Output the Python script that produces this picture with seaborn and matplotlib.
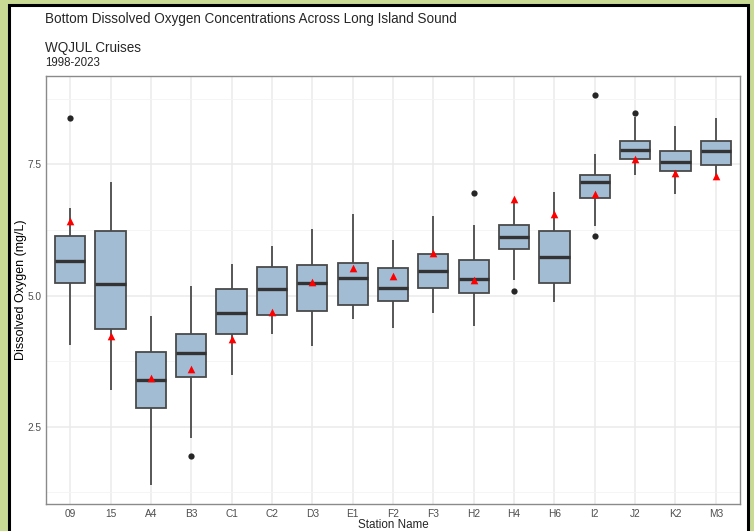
import matplotlib
matplotlib.use("Agg")
import matplotlib.pyplot as plt
from matplotlib.patches import Rectangle
import pandas as pd
import seaborn as sns

# summary values (mg/L)
stations = ["09", "15", "A4", "B3", "C1", "C2", "D3", "E1", "F2",
            "F3", "H2", "H4", "H6", "I2", "J2", "K2", "M3"]
whisker_low = [4.05, 3.21, 1.40, 2.29, 3.49, 4.26, 4.04, 4.55, 4.39,
               4.67, 4.42, 5.29, 4.88, 6.33, 7.29, 6.94, 7.27]
q1 = [5.23, 4.37, 2.85, 3.45, 4.27, 4.63, 4.71, 4.82, 4.89,
      5.14, 5.04, 5.88, 5.24, 6.86, 7.59, 7.38, 7.49]
median = [5.65, 5.21, 3.39, 3.90, 4.66, 5.12, 5.23, 5.33, 5.15,
          5.47, 5.31, 6.12, 5.74, 7.16, 7.77, 7.55, 7.75]
q3 = [6.14, 6.22, 3.92, 4.27, 5.12, 5.54, 5.59, 5.62, 5.52,
      5.79, 5.68, 6.34, 6.22, 7.30, 7.94, 7.76, 7.95]
whisker_high = [6.66, 7.16, 4.61, 5.19, 5.60, 5.95, 6.27, 6.55, 6.05,
                6.51, 6.34, 6.83, 6.98, 7.70, 8.40, 8.23, 8.38]
# red triangles (2023 value)
latest = [6.42, 4.23, 3.42, 3.60, 4.18, 4.68, 5.25, 5.52, 5.38,
          5.81, 5.30, 6.84, 6.55, 6.94, 7.60, 7.34, 7.27]
outlier_station = ["09", "B3", "H2", "H4", "I2", "I2", "J2"]
outlier_value = [8.38, 1.95, 6.95, 5.08, 8.81, 6.14, 8.48]

# five points per station so that the quartiles land exactly
rows = []
for i, st in enumerate(stations):
    for v in (whisker_low[i], q1[i], median[i], q3[i], whisker_high[i]):
        rows.append({"station": st, "do": v})
df = pd.DataFrame(rows)
df_latest = pd.DataFrame({"station": stations, "do": latest})
df_out = pd.DataFrame({"station": outlier_station, "do": outlier_value})

sns.set_theme(style="whitegrid")
plt.rcParams["font.family"] = ["Liberation Sans", "DejaVu Sans"]

fig = plt.figure(figsize=(7.54, 5.31), dpi=100)
fig.patch.set_facecolor("#c9da95")
# white page with black frame (bottom edge falls outside the crop)
frame = Rectangle((9 / 754, -0.05), 739 / 754, 1.05 - 5 / 531,
                  transform=fig.transFigure, facecolor="white",
                  edgecolor="black", linewidth=2.2, zorder=-1)
fig.patches.append(frame)
ax = fig.add_axes([46 / 754, 1 - 504 / 531, 694 / 754, 428 / 531])
ax.set_facecolor("white")

sns.boxplot(data=df, x="station", y="do", order=stations, ax=ax,
            whis=(0, 100), width=0.75, color="#a2bcd3", saturation=1,
            linecolor="#4a4a4a", linewidth=1.3, showfliers=False,
            showcaps=False,
            medianprops=dict(color="#333333", linewidth=2.4))
sns.stripplot(data=df_out, x="station", y="do", order=stations, ax=ax,
              jitter=False, color="#262626", size=4.5, linewidth=0, zorder=5)
sns.stripplot(data=df_latest, x="station", y="do", order=stations, ax=ax,
              jitter=False, marker="^", color="red", size=5.5, linewidth=0,
              zorder=6)

ax.set_xlim(-0.6, len(stations) - 0.4)
ax.set_ylim(1.03, 9.18)
ax.set_yticks([2.5, 5.0, 7.5])
ax.set_yticklabels(["2.5", "5.0", "7.5"])
ax.set_yticks([1.25, 3.75, 6.25, 8.75], minor=True)
ax.set_axisbelow(True)
ax.grid(which="major", color="#ebebeb", linewidth=1.1)
ax.grid(which="minor", axis="y", color="#f4f4f4", linewidth=0.6)
ax.tick_params(which="major", length=2.2, width=0.8, color="#555555",
               labelsize=7.3, labelcolor="#4d4d4d", pad=1.2)
ax.tick_params(which="minor", length=0)
for s in ax.spines.values():
    s.set_color("#8a8a8a")
    s.set_linewidth(1)

ax.set_xlabel("")
ax.set_ylabel("Dissolved Oxygen (mg/L)", fontsize=9, color="black")
ax.yaxis.set_label_coords((21 - 46) / 694, 0.5)
ax.yaxis.label.set_va("center")

fig.text(45 / 754, 1 - 19 / 531, "Bottom Dissolved Oxygen Concentrations Across Long Island Sound",
         fontsize=9.75, va="center", ha="left")
fig.text(45 / 754, 1 - 48 / 531, "WQJUL Cruises", fontsize=9.75, va="center", ha="left")
fig.text(45 / 754, 1 - 63 / 531, "1998-2023", fontsize=8.3, va="center", ha="left")
fig.text(393 / 754, 1 - 528.5 / 531, "Station Name", fontsize=8.4,
         va="baseline", ha="center")

fig.savefig("out.png", dpi=100, facecolor=fig.get_facecolor())
